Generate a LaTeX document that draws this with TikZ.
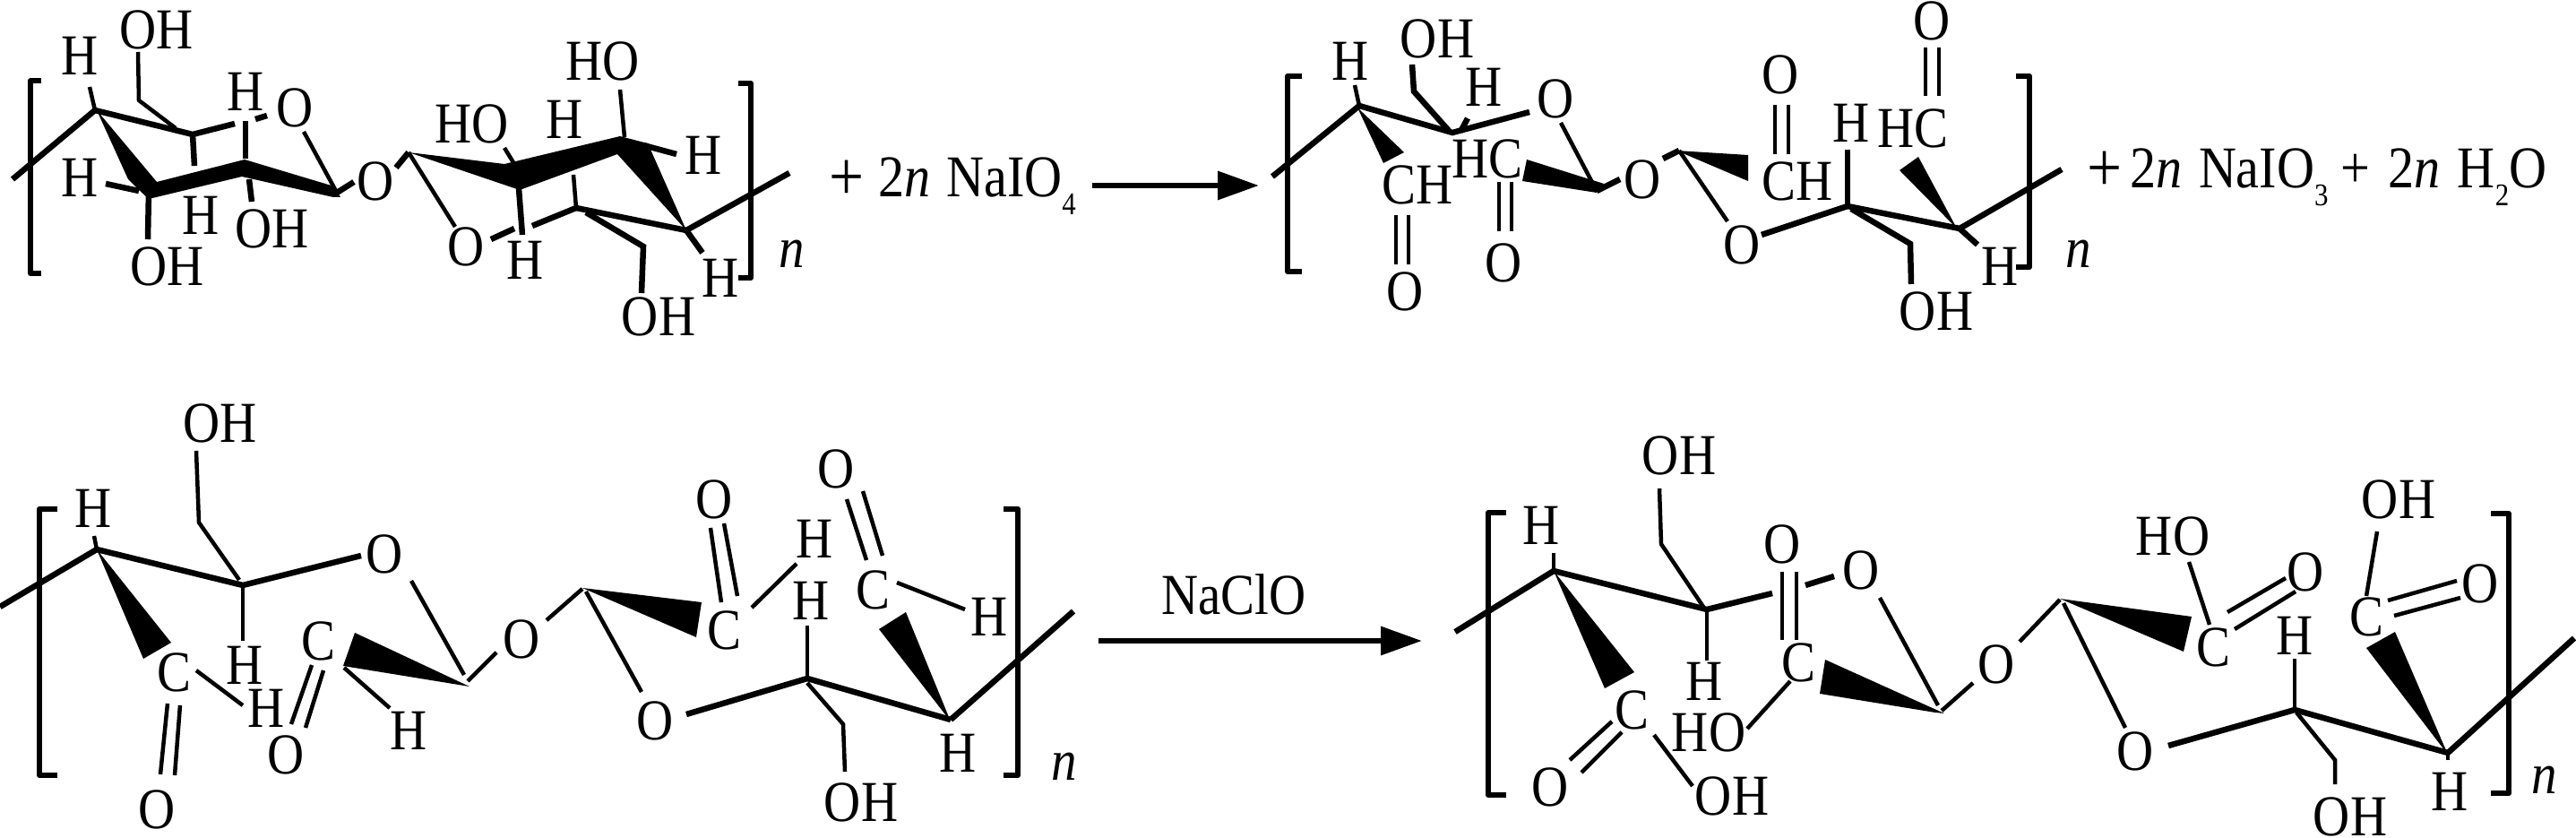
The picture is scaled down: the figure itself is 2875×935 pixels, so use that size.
\documentclass[tikz,border=0pt]{standalone}
\usepackage{fontspec}
\setmainfont[FakeStretch=0.88]{Liberation Serif}
\usetikzlibrary{arrows.meta, positioning}
\newcommand{\subnum}[1]{\raisebox{-5.6pt}{\fontsize{10}{10}\selectfont #1}}
\newcommand{\bigplus}{\raisebox{-1pt}{\fontsize{22.4}{24}\selectfont +}}
\tikzset{
  atomlabel/.style={inner sep=0pt, font=\fontsize{18.4}{20}\selectfont},
  eqtext/.style={inner sep=0pt, anchor=base west, font=\fontsize{18.8}{20}\selectfont},
  bond/.style={line width=0.45mm},
  boldbond/.style={line width=0.65mm},
  bracketline/.style={line width=0.6mm, line join=round},
  reactarrow/.style={line width=0.65mm, -{Triangle[length=4.6mm, width=3.1mm]}},
}
\begin{document}
\begin{tikzpicture}[x=0.1mm, y=-0.1mm]
  \useasboundingbox (0,0) rectangle (2875,935);

  % Cellulose, top left
  \coordinate (a1) at (106,123); \coordinate (a2) at (215,150); \coordinate (a4) at (166,213);
  \coordinate (a5) at (376,215); \coordinate (a6) at (456,170); \coordinate (a8) at (692,160);
  \coordinate (a9) at (766,257); \coordinate (a10) at (643,232);
  \node[atomlabel] (aOHa) at (175,33) {OH};
  \node[atomlabel] (aHa) at (89,62) {H};
  \node[atomlabel] (aHb) at (274,102) {H};
  \node[atomlabel] (aOa) at (329,120) {O};
  \node[atomlabel] (aHc) at (89,198) {H};
  \node[atomlabel] (aOHb) at (187,297) {OH};
  \node[atomlabel] (aHd) at (224,240) {H};
  \node[atomlabel] (aOHc) at (304,255) {OH};
  \node[atomlabel] (aOb) at (419,202) {O};
  \node[atomlabel] (aHOa) at (673,68) {HO};
  \node[atomlabel] (aHOb) at (527,138) {HO};
  \node[atomlabel] (aHe) at (630,133) {H};
  \node[atomlabel] (aHf) at (785,173) {H};
  \node[atomlabel] (aOc) at (520,275) {O};
  \node[atomlabel] (aHg) at (586,290) {H};
  \node[atomlabel] (aOHd) at (735,353) {OH};
  \node[atomlabel] (aHh) at (804,310) {H};
  \node[atomlabel] (an) at (884,283) {\textit{n}};
  \coordinate (aLa) at (14,200); \coordinate (aHaE) at (100,97); \coordinate (aRa) at (262,138);
  \coordinate (aSa) at (285,133); \coordinate (aSb) at (298,129); \coordinate (aCa) at (196,143);
  \coordinate (aCb) at (155,112); \coordinate (aCc) at (154,58); \coordinate (a2d) at (217,185);
  \coordinate (a3u) at (274,135); \coordinate (a3v) at (274,177); \coordinate (aOaE) at (339,147);
  \coordinate (aObE) at (395,203); \coordinate (aHcE) at (118,205); \coordinate (a4h) at (155,213);
  \coordinate (a4d) at (165,267); \coordinate (a3d) at (278,200); \coordinate (a3e) at (281,225);
  \coordinate (a6l) at (442,187); \coordinate (aOcE) at (508,253); \coordinate (a8u) at (692,100);
  \coordinate (a8t) at (697,153); \coordinate (a8r) at (718,162); \coordinate (aHfE) at (755,172);
  \coordinate (a7u) at (563,165); \coordinate (a7v) at (574,183); \coordinate (a7d) at (579,210);
  \coordinate (aHgE) at (583,262); \coordinate (a10u) at (640,195); \coordinate (a10l) at (594,252);
  \coordinate (aSc) at (574,255); \coordinate (aSd) at (548,267); \coordinate (a10c) at (654,237);
  \coordinate (a10d) at (718,275); \coordinate (a10e) at (716,327); \coordinate (a9d) at (784,282);
  \coordinate (aRb) at (881,193);
  \draw[boldbond] (aLa) -- (a1);
  \draw[bond] (a1) -- (aHaE);
  \draw[boldbond] (a1) -- (a2) -- (aRa);
  \draw[boldbond] (aSa) -- (aSb);
  \draw[bond] (aCa) -- (aCb) -- (aCc);
  \draw[boldbond] (a2) -- (a2d);
  \draw[boldbond] (a3u) -- (a3v);
  \draw[bond] (aOaE) -- (a5);
  \draw[boldbond] (a5) -- (aObE);
  \draw[boldbond] (aHcE) -- (a4h);
  \draw[boldbond] (a4) -- (a4d);
  \draw[boldbond] (a3d) -- (a3e);
  \draw[boldbond] (a6l) -- (a6);
  \draw[bond] (a6) -- (aOcE);
  \draw[bond] (a8u) -- (a8t);
  \draw[boldbond] (a8r) -- (aHfE);
  \draw[bond] (a7u) -- (a7v);
  \draw[boldbond] (a7d) -- (aHgE);
  \draw[bond] (a10u) -- (a10);
  \draw[boldbond] (a10) -- (a10l);
  \draw[boldbond] (aSc) -- (aSd);
  \draw[boldbond] (a10) -- (a9);
  \draw[boldbond] (a10c) -- (a10d) -- (a10e);
  \draw[boldbond] (a9) -- (a9d);
  \draw[boldbond] (a9) -- (aRb);
  % thick front edges of the rings
  \fill (108,123) -- (175,203) -- (273,178) -- (373,208) -- (380,220) -- (372,220) -- (270,197) -- (166,222) -- (153,210) -- (143,200) -- cycle;
  \fill (a6) -- (563,183) -- (692,152) -- (723,160) -- (a9) -- (689,172) -- (580,212) -- cycle;
  \draw[bracketline] (46,90) -- (34,90) -- (34,305) -- (46,305);
  \draw[bracketline] (824,93) -- (838,93) -- (838,310) -- (824,310);

  \node[eqtext] (reagent) at (925,220) {\bigplus\hspace{4.5pt}2\textit{n}\hspace{5pt}NaIO\subnum{4}};
  \coordinate (arrAs) at (1219,207); \coordinate (arrAe) at (1405,207);
  \draw[reactarrow] (arrAs) -- (arrAe);

  % Dialdehyde product, top right
  \coordinate (b1) at (1517,118); \coordinate (b2) at (1621,148); \coordinate (b5) at (1782,213);
  \coordinate (b6) at (1874,168); \coordinate (b9) at (2187,255); \coordinate (b10) at (2062,230);
  \node[atomlabel] (bHa) at (1507,68) {H};
  \node[atomlabel] (bOHa) at (1604,43) {OH};
  \node[atomlabel] (bHb) at (1656,97) {H};
  \node[atomlabel] (bOa) at (1736,110) {O};
  \node[atomlabel] (bHCa) at (1660,177) {HC};
  \node[atomlabel] (bCHa) at (1582,206) {CH};
  \node[atomlabel] (bOb) at (1568,325) {O};
  \node[atomlabel] (bOc) at (1678,293) {O};
  \node[atomlabel] (bOd) at (1833,200) {O};
  \node[atomlabel] (bOe) at (1944,273) {O};
  \node[atomlabel] (bCHb) at (2006,202) {CH};
  \node[atomlabel] (bOf) at (1987,83) {O};
  \node[atomlabel] (bHc) at (2066,137) {H};
  \node[atomlabel] (bHCb) at (2135,143) {HC};
  \node[atomlabel] (bOg) at (2156,23) {O};
  \node[atomlabel] (bOHb) at (2161,347) {OH};
  \node[atomlabel] (bHd) at (2232,297) {H};
  \node[atomlabel] (bn) at (2320,283) {\textit{n}};
  \coordinate (bLa) at (1420,197); \coordinate (bHaE) at (1512,95); \coordinate (bRa) at (1707,125);
  \coordinate (bCa) at (1618,147); \coordinate (bCb) at (1578,102); \coordinate (bCc) at (1576,72);
  \coordinate (bHbE) at (1638,132); \coordinate (bHbF) at (1630,147); \coordinate (bDa) at (1558,240);
  \coordinate (bDb) at (1558,295); \coordinate (bDc) at (1572,240); \coordinate (bDd) at (1572,295);
  \coordinate (bDe) at (1673,203); \coordinate (bDf) at (1673,258); \coordinate (bDg) at (1687,203);
  \coordinate (bDh) at (1687,258); \coordinate (bOaE) at (1742,137); \coordinate (bOdE) at (1808,200);
  \coordinate (bOdF) at (1856,177); \coordinate (bOeE) at (1928,247); \coordinate (bDi) at (1981,117);
  \coordinate (bDj) at (1981,172); \coordinate (bDk) at (1996,117); \coordinate (bDl) at (1996,172);
  \coordinate (b10u) at (2062,167); \coordinate (bOeF) at (1966,262); \coordinate (b10c) at (2066,233);
  \coordinate (b10d) at (2132,272); \coordinate (b10e) at (2133,317); \coordinate (bDm) at (2149,53);
  \coordinate (bDn) at (2149,107); \coordinate (bDo) at (2164,53); \coordinate (bDp) at (2164,107);
  \coordinate (b9d) at (2207,273); \coordinate (bRb) at (2301,189);
  \draw[boldbond] (bLa) -- (b1);
  \draw[bond] (b1) -- (bHaE);
  \draw[boldbond] (b1) -- (b2) -- (bRa);
  \draw[boldbond] (bCa) -- (bCb) -- (bCc);
  \draw[boldbond] (bHbE) -- (bHbF);
  \draw[bond] (bDa) -- (bDb);
  \draw[bond] (bDc) -- (bDd);
  \draw[bond] (bDe) -- (bDf);
  \draw[bond] (bDg) -- (bDh);
  \draw[bond] (bOaE) -- (b5);
  \draw[boldbond] (b5) -- (bOdE);
  \draw[boldbond] (bOdF) -- (b6);
  \draw[bond] (b6) -- (bOeE);
  \draw[bond] (bDi) -- (bDj);
  \draw[bond] (bDk) -- (bDl);
  \draw[boldbond] (b10u) -- (b10);
  \draw[boldbond] (bOeF) -- (b10);
  \draw[boldbond] (b10) -- (b9);
  \draw[boldbond] (b10c) -- (b10d) -- (b10e);
  \draw[bond] (bDm) -- (bDn);
  \draw[bond] (bDo) -- (bDp);
  \draw[boldbond] (b9) -- (b9d);
  \draw[boldbond] (b9) -- (bRb);
  \fill (1515,120) -- (1567,170) -- (1544,182) -- cycle;
  \fill (1704,178) -- (1790,205) -- (1782,215) -- (1699,202) -- cycle;
  \fill (1871,168) -- (1951,173) -- (1951,202) -- cycle;
  \fill (2184,255) -- (2120,190) -- (2141,175) -- cycle;
  \draw[bracketline] (1453,85) -- (1437,85) -- (1437,303) -- (1453,303);
  \draw[bracketline] (2250,85) -- (2265,85) -- (2265,298) -- (2250,298);

  \node[eqtext] (products) at (2329,210) {\bigplus\hspace{2.5pt}2\textit{n}\hspace{5.2pt}NaIO\subnum{3}\hspace{4pt}+\hspace{5.6pt}2\textit{n}\hspace{5.6pt}H\subnum{2}O};

  % Dialdehyde, bottom left
  \coordinate (c1) at (108,613); \coordinate (c2) at (271,653); \coordinate (c5) at (522,760);
  \coordinate (c6) at (650,657); \coordinate (c9) at (1061,803); \coordinate (c10) at (901,757);
  \node[atomlabel] (cOHa) at (246,472) {OH};
  \node[atomlabel] (cHa) at (104,567) {H};
  \node[atomlabel] (cOa) at (429,618) {O};
  \node[atomlabel] (cHb) at (273,742) {H};
  \node[atomlabel] (cCa) at (194,750) {C};
  \node[atomlabel] (cHc) at (297,790) {H};
  \node[atomlabel] (cOb) at (175,903) {O};
  \node[atomlabel] (cCb) at (355,715) {C};
  \node[atomlabel] (cOc) at (319,842) {O};
  \node[atomlabel] (cHd) at (456,815) {H};
  \node[atomlabel] (cOd) at (582,713) {O};
  \node[atomlabel] (cOe) at (731,804) {O};
  \node[atomlabel] (cCc) at (808,703) {C};
  \node[atomlabel] (cOf) at (797,557) {O};
  \node[atomlabel] (cHe) at (909,601) {H};
  \node[atomlabel] (cHf) at (905,670) {H};
  \node[atomlabel] (cOHb) at (961,895) {OH};
  \node[atomlabel] (cHg) at (1069,840) {H};
  \node[atomlabel] (cCd) at (974,658) {C};
  \node[atomlabel] (cOg) at (933,523) {O};
  \node[atomlabel] (cHh) at (1104,688) {H};
  \node[atomlabel] (cn) at (1188,855) {\textit{n}};
  \coordinate (cLa) at (0,677); \coordinate (cHaE) at (105,598); \coordinate (cRa) at (403,620);
  \coordinate (cCe) at (267,647); \coordinate (cCf) at (222,583); \coordinate (cCg) at (219,503);
  \coordinate (c2d) at (271,715); \coordinate (cHcE) at (219,748); \coordinate (cHcF) at (271,787);
  \coordinate (cDa) at (187,785); \coordinate (cDb) at (179,864); \coordinate (cDc) at (201,787);
  \coordinate (cDd) at (195,865); \coordinate (cDe) at (348,742); \coordinate (cDf) at (325,808);
  \coordinate (cDg) at (361,748); \coordinate (cDh) at (341,812); \coordinate (cHdE) at (384,745);
  \coordinate (cHdF) at (435,790); \coordinate (cOdE) at (554,728); \coordinate (cOaE) at (459,648);
  \coordinate (c5u) at (518,753); \coordinate (cOdF) at (610,692); \coordinate (c6r) at (654,660);
  \coordinate (cOeE) at (716,772); \coordinate (cDi) at (793,589); \coordinate (cDj) at (805,672);
  \coordinate (cDk) at (808,584); \coordinate (cDl) at (823,665); \coordinate (cHeE) at (839,678);
  \coordinate (cHeF) at (889,629); \coordinate (c10u) at (901,698); \coordinate (cOeF) at (766,797);
  \coordinate (c10c) at (901,762); \coordinate (c10d) at (941,808); \coordinate (c10e) at (943,861);
  \coordinate (cDm) at (945,557); \coordinate (cDn) at (967,625); \coordinate (cDo) at (963,548);
  \coordinate (cDp) at (985,620); \coordinate (cHhE) at (1001,650); \coordinate (cHhF) at (1077,680);
  \coordinate (cRb) at (1198,682);
  \draw[boldbond] (cLa) -- (c1);
  \draw[bond] (c1) -- (cHaE);
  \draw[boldbond] (c1) -- (c2) -- (cRa);
  \draw[bond] (cCe) -- (cCf) -- (cCg);
  \draw[bond] (c2) -- (c2d);
  \draw[bond] (cHcE) -- (cHcF);
  \draw[bond] (cDa) -- (cDb);
  \draw[bond] (cDc) -- (cDd);
  \draw[bond] (cDe) -- (cDf);
  \draw[bond] (cDg) -- (cDh);
  \draw[bond] (cHdE) -- (cHdF);
  \draw[bond] (c5) -- (cOdE);
  \draw[bond] (cOaE) -- (c5u);
  \draw[bond] (cOdF) -- (c6);
  \draw[bond] (c6r) -- (cOeE);
  \draw[bond] (cDi) -- (cDj);
  \draw[bond] (cDk) -- (cDl);
  \draw[bond] (cHeE) -- (cHeF);
  \draw[bond] (c10u) -- (c10);
  \draw[boldbond] (cOeF) -- (c10) -- (c9);
  \draw[bond] (c10c) -- (c10d) -- (c10e);
  \draw[bond] (cDm) -- (cDn);
  \draw[bond] (cDo) -- (cDp);
  \draw[bond] (cHhE) -- (cHhF);
  \draw[boldbond] (c9) -- (cRb);
  \fill (108,613) -- (191,717) -- (160,735) -- cycle;
  \fill (396,706) -- (524,766) -- (518,765) -- (383,743) -- cycle;
  \fill (650,656) -- (783,672) -- (777,711) -- cycle;
  \fill (1061,805) -- (981,702) -- (1011,683) -- cycle;
  \draw[bracketline] (64,568) -- (44,568) -- (44,865) -- (64,865);
  \draw[bracketline] (1120,568) -- (1136,568) -- (1136,865) -- (1120,865);

  \node[atomlabel] (oxidant) at (1377,663) {NaClO};
  \coordinate (arrBs) at (1226,715); \coordinate (arrBe) at (1587,715);
  \draw[reactarrow] (arrBs) -- (arrBe);

  % Dicarboxyl product, bottom right
  \coordinate (d1) at (1734,637); \coordinate (d2) at (1905,680); \coordinate (d5) at (2167,793);
  \coordinate (d6) at (2299,669); \coordinate (d9) at (2732,840); \coordinate (d10) at (2561,792);
  \node[atomlabel] (dOHa) at (1874,508) {OH};
  \node[atomlabel] (dHa) at (1720,586) {H};
  \node[atomlabel] (dOa) at (2077,636) {O};
  \node[atomlabel] (dOb) at (1989,607) {O};
  \node[atomlabel] (dHb) at (1902,760) {H};
  \node[atomlabel] (dCa) at (1821,792) {C};
  \node[atomlabel] (dOc) at (1730,878) {O};
  \node[atomlabel] (dOHb) at (1933,888) {OH};
  \node[atomlabel] (dHOa) at (1907,817) {HO};
  \node[atomlabel] (dCb) at (2007,739) {C};
  \node[atomlabel] (dOd) at (2228,741) {O};
  \node[atomlabel] (dOe) at (2383,838) {O};
  \node[atomlabel] (dCc) at (2470,722) {C};
  \node[atomlabel] (dOf) at (2573,638) {O};
  \node[atomlabel] (dHOb) at (2425,598) {HO};
  \node[atomlabel] (dHc) at (2561,709) {H};
  \node[atomlabel] (dOHc) at (2623,911) {OH};
  \node[atomlabel] (dHd) at (2734,883) {H};
  \node[atomlabel] (dCd) at (2641,688) {C};
  \node[atomlabel] (dOg) at (2768,651) {O};
  \node[atomlabel] (dOHd) at (2677,557) {OH};
  \node[atomlabel] (dn) at (2840,870) {\textit{n}};
  \coordinate (dLa) at (1624,705); \coordinate (dHaE) at (1734,617); \coordinate (dRa) at (1978,662);
  \coordinate (dSa) at (2015,653); \coordinate (dSb) at (2047,643); \coordinate (dCe) at (1901,677);
  \coordinate (dCf) at (1854,607); \coordinate (dCg) at (1852,545); \coordinate (d2d) at (1905,737);
  \coordinate (dDa) at (1799,805); \coordinate (dDb) at (1752,848); \coordinate (dDc) at (1810,817);
  \coordinate (dDd) at (1765,862); \coordinate (dCh) at (1846,820); \coordinate (dCi) at (1889,877);
  \coordinate (dCj) at (1998,760); \coordinate (dCk) at (1950,813); \coordinate (dDe) at (1989,638);
  \coordinate (dDf) at (1989,714); \coordinate (dDg) at (2005,638); \coordinate (dDh) at (2005,714);
  \coordinate (dOdE) at (2202,762); \coordinate (dOaE) at (2098,667); \coordinate (d5u) at (2163,787);
  \coordinate (dOdF) at (2254,716); \coordinate (d6r) at (2303,673); \coordinate (dOeE) at (2372,812);
  \coordinate (dDi) at (2551,645); \coordinate (dDj) at (2486,683); \coordinate (dDk) at (2562,660);
  \coordinate (dDl) at (2494,702); \coordinate (dCl) at (2443,627); \coordinate (dCm) at (2466,697);
  \coordinate (d10u) at (2561,735); \coordinate (dOeF) at (2420,832); \coordinate (d10c) at (2563,795);
  \coordinate (d10d) at (2606,848); \coordinate (d10e) at (2606,875); \coordinate (d9d) at (2732,848);
  \coordinate (dDm) at (2665,670); \coordinate (dDn) at (2742,648); \coordinate (dDo) at (2672,687);
  \coordinate (dDp) at (2746,667); \coordinate (dCn) at (2641,665); \coordinate (dCo) at (2653,593);
  \coordinate (dRb) at (2873,712);
  \draw[boldbond] (dLa) -- (d1);
  \draw[bond] (d1) -- (dHaE);
  \draw[boldbond] (d1) -- (d2) -- (dRa);
  \draw[boldbond] (dSa) -- (dSb);
  \draw[bond] (dCe) -- (dCf) -- (dCg);
  \draw[bond] (d2) -- (d2d);
  \draw[bond] (dDa) -- (dDb);
  \draw[bond] (dDc) -- (dDd);
  \draw[bond] (dCh) -- (dCi);
  \draw[bond] (dCj) -- (dCk);
  \draw[bond] (dDe) -- (dDf);
  \draw[bond] (dDg) -- (dDh);
  \draw[bond] (d5) -- (dOdE);
  \draw[bond] (dOaE) -- (d5u);
  \draw[bond] (dOdF) -- (d6);
  \draw[bond] (d6r) -- (dOeE);
  \draw[bond] (dDi) -- (dDj);
  \draw[bond] (dDk) -- (dDl);
  \draw[bond] (dCl) -- (dCm);
  \draw[bond] (d10u) -- (d10);
  \draw[boldbond] (dOeF) -- (d10) -- (d9);
  \draw[bond] (d10c) -- (d10d) -- (d10e);
  \draw[bond] (d9) -- (d9d);
  \draw[bond] (dDm) -- (dDn);
  \draw[bond] (dDo) -- (dDp);
  \draw[bond] (dCn) -- (dCo);
  \draw[boldbond] (d9) -- (dRb);
  \fill (1734,637) -- (1824,750) -- (1791,768) -- cycle;
  \fill (2037,736) -- (2170,796) -- (2160,795) -- (2031,774) -- cycle;
  \fill (2299,668) -- (2446,688) -- (2437,727) -- cycle;
  \fill (2732,842) -- (2641,723) -- (2673,705) -- cycle;
  \draw[bracketline] (1681,572) -- (1661,572) -- (1661,887) -- (1681,887);
  \draw[bracketline] (2780,573) -- (2800,573) -- (2800,885) -- (2780,885);
\end{tikzpicture}
\end{document}
